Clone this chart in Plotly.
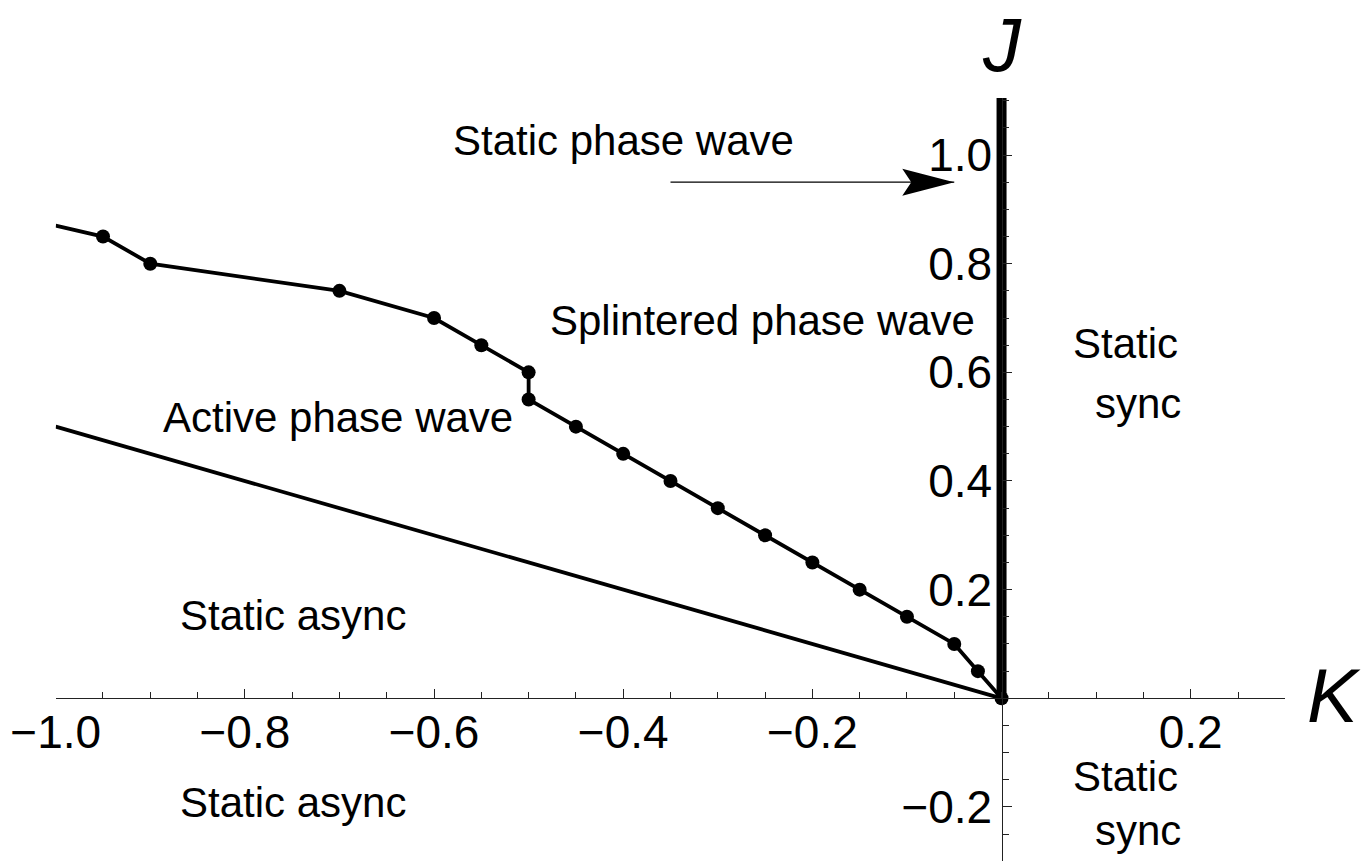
import numpy as np
import plotly.graph_objects as go

# ---- data -------------------------------------------------------------
# simulated boundary between the active and splintered phase-wave regions
sim_K = [-0.95, -0.9, -0.7, -0.6, -0.55, -0.5, -0.5, -0.45, -0.4, -0.35,
         -0.3, -0.25, -0.2, -0.15, -0.1, -0.05, -0.025, 0.0]
sim_J = [0.85, 0.8, 0.75, 0.7, 0.65, 0.6, 0.55, 0.5, 0.45, 0.4,
         0.35, 0.3, 0.25, 0.2, 0.15, 0.1, 0.05, 0.0]
# continuation of that boundary to the left frame edge
edge_K = [-1.0]
edge_J = [0.87]

# analytic async boundary J = -K/2
async_K = [-1.0, 0.0]
async_J = [0.5, 0.0]

# sync boundary along K = 0
sync_K = [0.0, 0.0]
sync_J = [0.0, 1.2]

# arrow pointing at the static phase wave line
arrow_K = [-0.35, -0.05]
arrow_J = [0.95, 0.95]

# region labels
label_text = ["Static phase wave", "Splintered phase wave", "Active phase wave",
              "Static async", "Static async"]
label_K = [-0.400, -0.253, -0.702, -0.749, -0.749]
label_J = [1.026, 0.696, 0.516, 0.152, -0.192]

sync_text = ["Static", "sync", "Static", "sync"]
sync_lab_K = [0.1887, 0.192, 0.1887, 0.192]
sync_lab_J = [0.654, 0.542, -0.1445, -0.2433]

x_tickvals = [-1.0, -0.8, -0.6, -0.4, -0.2, 0.2]
x_ticktext = ["\u22121.0", "\u22120.8", "\u22120.6", "\u22120.4", "\u22120.2", "0.2"]
y_tickvals = [-0.2, 0.2, 0.4, 0.6, 0.8, 1.0]
y_ticktext = ["\u22120.2", "0.2", "0.4", "0.6", "0.8", "1.0"]

# ---- layout geometry ---------------------------------------------------
W, H = 1372, 861
FONT = "Liberation Sans, Arial, sans-serif"
x_range = [-1.0, 0.3]
y_range = [-0.2995, 1.105]
x_dom = [55.7 / W, 1285.3 / W]
y_dom = [0.0, 1 - 98.0 / H]

# paper positions of the zero crossings, so the axes cross at the origin
x_axis_pos = y_dom[0] + (0 - y_range[0]) / (y_range[1] - y_range[0]) * (y_dom[1] - y_dom[0])
y_axis_pos = x_dom[0] + (0 - x_range[0]) / (x_range[1] - x_range[0]) * (x_dom[1] - x_dom[0])

AX = "#222222"

fig = go.Figure()

fig.add_trace(go.Scatter(x=async_K, y=async_J, mode="lines",
                         line=dict(color="black", width=3.8), hoverinfo="skip"))
fig.add_trace(go.Scatter(x=edge_K + sim_K, y=edge_J + sim_J, mode="lines",
                         line=dict(color="black", width=3.8), hoverinfo="skip"))
fig.add_trace(go.Scatter(x=sim_K, y=sim_J, mode="markers",
                         marker=dict(color="black", size=14), hoverinfo="skip"))
fig.add_trace(go.Scatter(x=sync_K, y=sync_J, mode="lines",
                         line=dict(color="black", width=10), hoverinfo="skip"))
fig.add_trace(go.Scatter(x=arrow_K, y=arrow_J, mode="lines",
                         line=dict(color="black", width=1.3), hoverinfo="skip"))

# arrow head (pixel-sized, anchored at the arrow tip)
fig.add_shape(type="path", xref="x", yref="y",
              xsizemode="pixel", ysizemode="pixel",
              xanchor=arrow_K[-1], yanchor=arrow_J[-1],
              path="M 0 0 L -52 13.5 L -43 0 L -52 -13.5 Z",
              fillcolor="black", line=dict(width=0))

for t, k, j in zip(label_text, label_K, label_J):
    fig.add_annotation(x=k, y=j, text=t, showarrow=False, xanchor="center",
                       yanchor="middle", font=dict(family=FONT, size=42, color="black"))
for t, k, j in zip(sync_text, sync_lab_K, sync_lab_J):
    fig.add_annotation(x=k, y=j, text=t, showarrow=False, xanchor="right",
                       yanchor="middle", font=dict(family=FONT, size=42, color="black"))

# axis names
fig.add_annotation(xref="paper", yref="paper", x=1002 / W, y=1.0,
                   text="<i>J</i>", showarrow=False, xanchor="center", yanchor="top",
                   font=dict(family=FONT, size=76, color="black"))
fig.add_annotation(xref="paper", yref="paper", x=1334 / W, y=1 - 695 / H,
                   text="<i>K</i>", showarrow=False, xanchor="center", yanchor="middle",
                   font=dict(family=FONT, size=76, color="black"))

minor_x = [float(v) for v in np.round(np.arange(-1.0, 0.3001, 0.05), 2)]
minor_y = [float(v) for v in np.round(np.arange(-0.3, 1.1001, 0.05), 2)]

fig.update_layout(
    width=W, height=H,
    margin=dict(l=0, r=0, t=0, b=0),
    paper_bgcolor="white", plot_bgcolor="white",
    showlegend=False,
    xaxis=dict(range=x_range, domain=x_dom, anchor="free", position=x_axis_pos,
               side="bottom", showgrid=False, zeroline=False, automargin=False,
               showline=True, linecolor=AX, linewidth=1.3,
               tickmode="array", tickvals=x_tickvals, ticktext=x_ticktext,
               ticks="inside", ticklen=9, tickwidth=1.3, tickcolor=AX,
               ticklabelstandoff=-7,
               tickfont=dict(family=FONT, size=46, color="black"),
               minor=dict(tickmode="array", tickvals=minor_x, ticks="inside",
                          ticklen=6, tickwidth=1.3, tickcolor=AX, showgrid=False)),
    yaxis=dict(range=y_range, domain=y_dom, anchor="free", position=y_axis_pos,
               side="left", showgrid=False, zeroline=False, automargin=False,
               showline=True, linecolor=AX, linewidth=1.3,
               tickmode="array", tickvals=y_tickvals, ticktext=y_ticktext,
               ticks="inside", ticklen=9, tickwidth=1.3, tickcolor=AX,
               tickfont=dict(family=FONT, size=46, color="black"),
               minor=dict(tickmode="array", tickvals=minor_y, ticks="inside",
                          ticklen=6, tickwidth=1.3, tickcolor=AX, showgrid=False)),
)

fig.write_html("out.html")
